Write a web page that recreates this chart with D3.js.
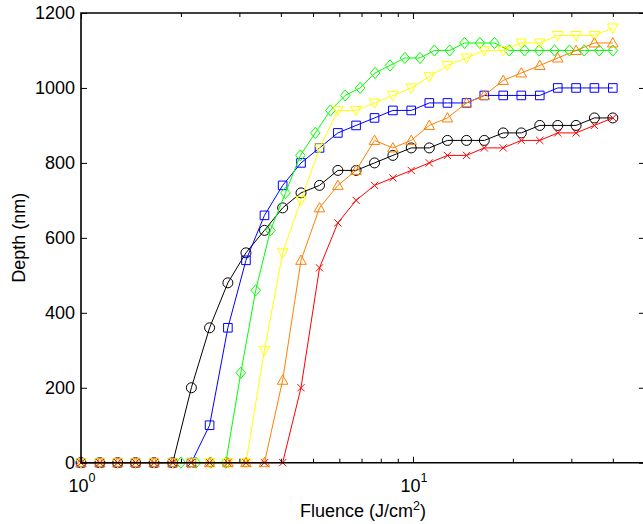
<!DOCTYPE html>
<html>
<head>
<meta charset="utf-8">
<script src="https://cdn.jsdelivr.net/npm/d3@7"></script>
<style>
  html, body { margin: 0; padding: 0; background: #fff; }
  svg { display: block; }
  text { font-family: "Liberation Sans", Arial, Helvetica, sans-serif; fill: #000; }
</style>
</head>
<body>
<svg id="chart" width="643" height="524"></svg>
<script>
// Fluence grid (J/cm^2) shared by most runs
const fluence = [1.00, 1.14, 1.29, 1.46, 1.66, 1.89, 2.15, 2.44, 2.77, 3.14,
                 3.57, 4.05, 4.60, 5.23, 5.94, 6.74, 7.66, 8.70, 9.88, 11.2,
                 12.7, 14.5, 16.4, 18.7, 21.2, 24.1, 27.3, 31.0, 35.2, 40.0];
// Fluence grid of the diamond run
const fluenceGreen = [2.00, 2.22, 2.46, 2.73, 3.03, 3.36, 3.72, 4.13, 4.58, 5.08,
                      5.64, 6.25, 6.93, 7.69, 8.53, 9.46, 10.5, 11.6, 12.9, 14.3,
                      15.9, 17.6, 19.5, 21.7, 24.0, 26.7, 29.6, 32.8, 36.4, 40.0];

// Ablation depth (nm)
const depthBlack  = [0, 0, 0, 0, 0, 0, 200, 360, 480, 560, 620, 680, 720, 740, 780,
                     780, 800, 820, 840, 840, 860, 860, 860, 880, 880, 900, 900, 900, 920, 920];
const depthBlue   = [0, 0, 0, 0, 0, 0, 0, 100, 360, 540, 660, 740, 800, 840, 880,
                     900, 920, 940, 940, 960, 960, 960, 980, 980, 980, 980, 1000, 1000, 1000, 1000];
const depthGreen  = [0, 0, 0, 0, 240, 460, 620, 720, 820, 880, 940, 980, 1000, 1040, 1060,
                     1080, 1080, 1100, 1100, 1120, 1120, 1120, 1100, 1100, 1100, 1100, 1100, 1100, 1100, 1100];
const depthYellow = [0, 0, 0, 0, 0, 0, 0, 0, 0, 0, 300, 560, 700, 840, 940,
                     940, 960, 980, 1000, 1030, 1060, 1080, 1100, 1100, 1120, 1120, 1140, 1140, 1140, 1160];
const depthOrange = [0, 0, 0, 0, 0, 0, 0, 0, 0, 0, 0, 220, 540, 680, 740,
                     780, 860, 840, 860, 900, 920, 960, 980, 1020, 1040, 1060, 1080, 1100, 1120, 1120];
const depthRed    = [0, 0, 0, 0, 0, 0, 0, 0, 0, 0, 0, 0, 200, 520, 640,
                     700, 740, 760, 780, 800, 820, 820, 840, 840, 860, 860, 880, 880, 900, 920];

const yTicks = [0, 200, 400, 600, 800, 1000, 1200];
const xMajorTicks = [1, 10];
const xMinorTicks = [2, 3, 4, 5, 6, 7, 8, 9, 20, 30, 40];

const series = [
  { x: fluence,      y: depthBlack,  color: "#000000", marker: "circle" },
  { x: fluence,      y: depthBlue,   color: "#0000ff", marker: "square" },
  { x: fluenceGreen, y: depthGreen,  color: "#00ff00", marker: "diamond" },
  { x: fluence,      y: depthYellow, color: "#ffff00", marker: "triDown" },
  { x: fluence,      y: depthOrange, color: "#ff8000", marker: "triUp" },
  { x: fluence,      y: depthRed,    color: "#ff0000", marker: "cross" }
];

const svg = d3.select("#chart");
const plot = { left: 81, right: 645, top: 13, bottom: 462.7 };
const fontSize = 18;

const x = d3.scaleLog().domain([1, 50]).range([plot.left, plot.right]);
const y = d3.scaleLinear().domain([0, 1200]).range([plot.bottom, plot.top]);

// Marker outlines, centred on the origin
const markerPath = {
  circle:  () => { const p = d3.path(); p.arc(0, 0, 5, 0, 2 * Math.PI); p.closePath(); return p.toString(); },
  square:  () => "M-4.3,-4.3H4.3V4.3H-4.3Z",
  diamond: () => "M0,-5.6L4.8,0L0,5.6L-4.8,0Z",
  triDown: () => "M-5.3,-4L5.3,-4L0,5.3Z",
  triUp:   () => "M-5.3,4L5.3,4L0,-5.3Z",
  cross:   () => "M-3.6,-3.6L3.6,3.6M-3.6,3.6L3.6,-3.6"
};

const line = d3.line().x(d => x(d[0])).y(d => y(d[1]));

const gData = svg.append("g");
series.forEach(s => {
  const pts = s.x.map((v, i) => [v, s.y[i]]);
  const g = gData.append("g");
  g.append("path")
    .attr("d", line(pts))
    .attr("fill", "none")
    .attr("stroke", s.color)
    .attr("stroke-width", 1);
  g.selectAll("path.mk")
    .data(pts)
    .join("path")
    .attr("class", "mk")
    .attr("transform", d => `translate(${x(d[0])},${y(d[1])})`)
    .attr("d", markerPath[s.marker]())
    .attr("fill", "none")
    .attr("stroke", s.color)
    .attr("stroke-width", 1);
});

// Axes box (right edge falls just outside the canvas)
const axisColor = "#000";
svg.append("path")
  .attr("d", `M${plot.right},${plot.top}H${plot.left}V${plot.bottom}H${plot.right}`)
  .attr("fill", "none")
  .attr("stroke", axisColor)
  .attr("stroke-width", 1.6);

// Left y axis with inward ticks
const yAxisLeft = d3.axisLeft(y).tickValues(yTicks).tickSize(-6).tickPadding(6)
  .tickFormat(d3.format("d"));
const gy = svg.append("g").attr("transform", `translate(${plot.left},0)`).call(yAxisLeft);
gy.select(".domain").remove();
gy.selectAll(".tick line").attr("stroke", axisColor).attr("stroke-width", 1);
gy.selectAll(".tick text").attr("font-size", fontSize).attr("font-family", null);

// Right y ticks (inward)
const yAxisRight = d3.axisRight(y).tickValues(yTicks).tickSize(-6).tickFormat("");
const gyr = svg.append("g").attr("transform", `translate(${plot.right},0)`).call(yAxisRight);
gyr.select(".domain").remove();
gyr.selectAll(".tick line").attr("stroke", axisColor);

// Bottom and top x ticks (inward)
function xTicks(vals, len) {
  const gb = svg.append("g").attr("transform", `translate(0,${plot.bottom})`)
    .call(d3.axisBottom(x).tickValues(vals).tickSize(-len).tickFormat(""));
  gb.select(".domain").remove();
  gb.selectAll(".tick line").attr("stroke", axisColor);
  const gt = svg.append("g").attr("transform", `translate(0,${plot.top})`)
    .call(d3.axisTop(x).tickValues(vals).tickSize(-len).tickFormat(""));
  gt.select(".domain").remove();
  gt.selectAll(".tick line").attr("stroke", axisColor);
}
xTicks(xMajorTicks, 6);
xTicks(xMinorTicks, 4);

// Power-of-ten tick labels
xMajorTicks.forEach(v => {
  const t = svg.append("text")
    .attr("x", x(v) + 1)
    .attr("y", 492)
    .attr("text-anchor", "middle")
    .attr("font-size", fontSize);
  t.append("tspan").text("10");
  t.append("tspan").attr("dy", -10).attr("font-size", 12.5).text(Math.round(Math.log10(v)));
});

// Axis titles
const xt = svg.append("text")
  .attr("x", (plot.left + plot.right) / 2)
  .attr("y", 517)
  .attr("text-anchor", "middle")
  .attr("font-size", fontSize);
xt.append("tspan").text("Fluence (J/cm");
xt.append("tspan").attr("dy", -7).attr("font-size", 12.5).text("2");
xt.append("tspan").attr("dy", 7).text(")");

svg.append("text")
  .attr("transform", `translate(25,${(plot.top + plot.bottom) / 2}) rotate(-90)`)
  .attr("text-anchor", "middle")
  .attr("font-size", fontSize)
  .text("Depth (nm)");
</script>
</body>
</html>
